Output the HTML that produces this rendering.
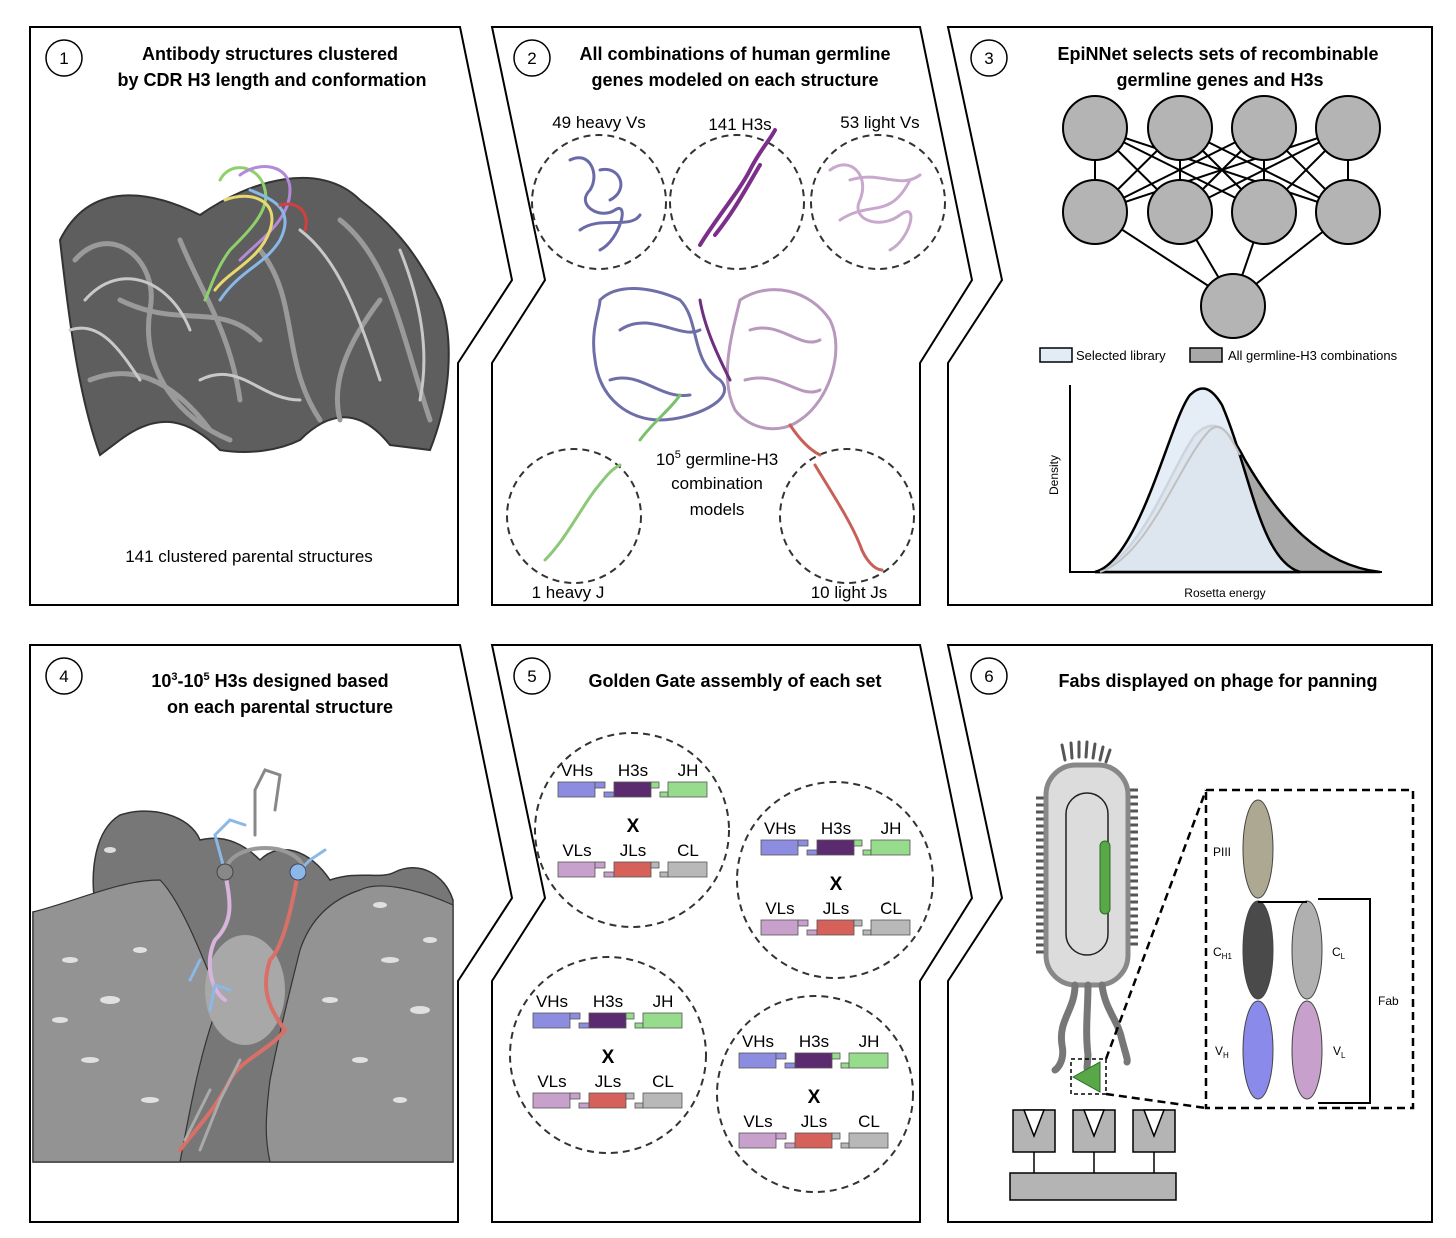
<!DOCTYPE html>
<html><head><meta charset="utf-8"><style>
html,body{margin:0;padding:0;background:#fff}
svg{display:block}
text{font-family:"Liberation Sans",Arial,sans-serif}
.t{font-weight:bold;font-size:18px;text-anchor:middle}
.l{font-size:17px;text-anchor:middle}
</style></head><body>
<svg width="1456" height="1238" viewBox="0 0 1456 1238" xmlns="http://www.w3.org/2000/svg">
<!-- panel outlines -->
<g fill="none" stroke="#000" stroke-width="2">
<path d="M30,27 H460 L512,280 L458,363 V605 H30 Z"/>
<path d="M492,27 H920 L972,280 L920,363 V605 H492 V363 L545,280 Z"/>
<path d="M948,27 H1432 V605 H948 V363 L1002,280 Z"/>
<path d="M30,645 H460 L512,898 L458,981 V1222 H30 Z"/>
<path d="M492,645 H920 L972,898 L920,981 V1222 H492 V981 L545,898 Z"/>
<path d="M948,645 H1432 V1222 H948 V981 L1002,898 Z"/>
</g>
<g fill="#fff" stroke="#000" stroke-width="1.5">
<circle cx="64" cy="58" r="18"/><circle cx="532" cy="58" r="18"/><circle cx="989" cy="58" r="18"/>
<circle cx="64" cy="676" r="18"/><circle cx="532" cy="676" r="18"/><circle cx="989" cy="676" r="18"/>
</g>
<g font-size="17">
<text x="64" y="64" text-anchor="middle">1</text><text x="532" y="64" text-anchor="middle">2</text><text x="989" y="64" text-anchor="middle">3</text>
<text x="64" y="682" text-anchor="middle">4</text><text x="532" y="682" text-anchor="middle">5</text><text x="989" y="682" text-anchor="middle">6</text>
</g>
<text class="t" x="270" y="60">Antibody structures clustered</text>
<text class="t" x="272" y="86">by CDR H3 length and conformation</text>
<text class="t" x="735" y="60">All combinations of human germline</text>
<text class="t" x="735" y="86">genes modeled on each structure</text>
<text class="t" x="1218" y="60">EpiNNet selects sets of recombinable</text>
<text class="t" x="1220" y="86">germline genes and H3s</text>
<text class="t" x="270" y="687">10<tspan font-size="11" dy="-7">3</tspan><tspan dy="7">-10</tspan><tspan font-size="11" dy="-7">5</tspan><tspan dy="7"> H3s designed based</tspan></text>
<text class="t" x="280" y="713">on each parental structure</text>
<text class="t" x="735" y="687">Golden Gate assembly of each set</text>
<text class="t" x="1218" y="687">Fabs displayed on phage for panning</text>

<!-- Panel 1 structure -->
<g stroke-linecap="round" fill="none">
<path d="M60,240 C90,180 150,190 200,215 C250,180 320,160 360,200 C400,230 420,260 440,300 C455,340 450,400 430,450 L390,445 C370,420 340,400 300,440 C280,450 250,455 220,450 C190,420 160,410 120,440 L100,455 C80,400 70,330 60,240 Z" fill="#5e5e5e" stroke="#333" stroke-width="2"/>
<path d="M75,260 C110,220 160,260 150,310 C140,370 180,420 230,440 M260,250 C300,300 280,360 320,420 M340,220 C390,260 400,330 430,420 M120,300 C180,330 220,300 260,340 M90,380 C140,360 180,390 210,430 M180,240 C200,290 230,330 240,400 M380,300 C350,340 330,380 340,420" stroke="#9a9a9a" stroke-width="5"/>
<path d="M85,300 C120,260 170,280 190,330 M300,230 C340,260 360,320 380,380 M200,380 C240,360 260,400 300,400 M70,330 C100,320 120,350 140,380 M400,250 C420,300 430,350 420,400" stroke="#c8c8c8" stroke-width="3"/>
<path d="M220,180 C230,160 260,165 265,190 C270,210 250,230 230,250 C215,270 210,290 205,300" stroke="#8fd06b" stroke-width="3"/>
<path d="M240,175 C260,160 290,165 290,190 C290,220 260,240 240,260" stroke="#b48ad8" stroke-width="3"/>
<path d="M225,200 C250,190 280,200 270,230 C260,260 230,270 215,290" stroke="#e8d870" stroke-width="3"/>
<path d="M250,190 C275,200 295,210 280,240 C265,265 240,270 220,300" stroke="#88b8e8" stroke-width="3"/>
<path d="M280,205 C300,200 310,215 305,230" stroke="#d04040" stroke-width="3"/>
</g>
<text class="l" x="249" y="562">141 clustered parental structures</text>

<!-- Panel 2 -->
<g fill="none" stroke="#333" stroke-width="2" stroke-dasharray="7,5">
<circle cx="599" cy="202" r="67"/><circle cx="737" cy="202" r="67"/><circle cx="878" cy="202" r="67"/>
<circle cx="574" cy="516" r="67"/><circle cx="847" cy="516" r="67"/>
</g>
<text class="l" x="599" y="128">49 heavy Vs</text>
<text class="l" x="740" y="130">141 H3s</text>
<text class="l" x="880" y="128">53 light Vs</text>
<text class="l" x="568" y="598">1 heavy J</text>
<text class="l" x="849" y="598">10 light Js</text>
<text class="l" x="717" y="465">10<tspan font-size="11" dy="-7">5</tspan><tspan dy="7"> germline-H3</tspan></text>
<text class="l" x="717" y="489">combination</text>
<text class="l" x="717" y="515">models</text>
<g fill="none" stroke-linecap="round">
<path d="M570,160 C590,150 600,175 590,190 C575,205 600,220 615,210 C630,200 620,240 600,250 M580,230 C600,215 630,230 640,215 M600,170 C620,165 630,190 610,200" stroke="#6a6aa8" stroke-width="3"/>
<path d="M700,245 C715,220 740,190 750,170 C760,150 770,140 775,130 M715,235 C735,210 745,190 760,165" stroke="#7b2f8a" stroke-width="4"/>
<path d="M830,170 C850,155 870,175 860,200 C850,220 880,230 900,215 C920,200 910,240 890,250 M840,220 C870,200 890,220 910,180 M850,180 C880,170 900,190 920,175" stroke="#c8a8cc" stroke-width="3"/>
<path d="M600,300 C620,280 660,290 680,300 C700,320 690,360 720,380 C740,400 690,420 660,420 C630,420 600,400 595,360 C590,330 600,310 600,300 Z M620,330 C650,310 680,340 700,330 M610,380 C640,370 660,400 690,395" stroke="#6e6ea8" stroke-width="3"/>
<path d="M740,300 C770,280 810,290 830,320 C845,350 830,400 800,420 C780,435 750,430 735,410 C720,380 730,340 740,300 Z M750,330 C780,320 800,350 820,340 M745,380 C780,370 800,400 820,390" stroke="#b898bc" stroke-width="3"/>
<path d="M700,300 C705,330 720,360 730,380" stroke="#6e2f7e" stroke-width="3"/>
<path d="M640,440 C655,420 670,410 680,395" stroke="#7bc06b" stroke-width="3"/>
<path d="M545,560 C565,540 580,510 595,490 C605,478 610,470 620,465" stroke="#8cc878" stroke-width="3"/>
<path d="M815,465 C830,490 850,520 860,545 C865,560 875,570 882,570" stroke="#c86058" stroke-width="3"/>
<path d="M790,425 C800,440 810,450 820,455" stroke="#c86058" stroke-width="3"/>
</g>

<!-- Panel 3 network -->
<g stroke="#000" stroke-width="2">
<line x1="1095" y1="128" x2="1095" y2="212"/><line x1="1095" y1="128" x2="1180" y2="212"/><line x1="1095" y1="128" x2="1264" y2="212"/><line x1="1095" y1="128" x2="1348" y2="212"/>
<line x1="1180" y1="128" x2="1095" y2="212"/><line x1="1180" y1="128" x2="1180" y2="212"/><line x1="1180" y1="128" x2="1264" y2="212"/><line x1="1180" y1="128" x2="1348" y2="212"/>
<line x1="1264" y1="128" x2="1095" y2="212"/><line x1="1264" y1="128" x2="1180" y2="212"/><line x1="1264" y1="128" x2="1264" y2="212"/><line x1="1264" y1="128" x2="1348" y2="212"/>
<line x1="1348" y1="128" x2="1095" y2="212"/><line x1="1348" y1="128" x2="1180" y2="212"/><line x1="1348" y1="128" x2="1264" y2="212"/><line x1="1348" y1="128" x2="1348" y2="212"/>
<line x1="1095" y1="212" x2="1233" y2="302"/><line x1="1180" y1="212" x2="1233" y2="302"/><line x1="1264" y1="212" x2="1233" y2="302"/><line x1="1348" y1="212" x2="1233" y2="302"/>
<g fill="#b4b4b4">
<circle cx="1095" cy="128" r="32"/><circle cx="1180" cy="128" r="32"/><circle cx="1264" cy="128" r="32"/><circle cx="1348" cy="128" r="32"/>
<circle cx="1095" cy="212" r="32"/><circle cx="1180" cy="212" r="32"/><circle cx="1264" cy="212" r="32"/><circle cx="1348" cy="212" r="32"/>
<circle cx="1233" cy="306" r="32"/>
</g>
</g>
<rect x="1040" y="348" width="32" height="14" fill="#e2ecf6" stroke="#000" stroke-width="1.5"/>
<text x="1076" y="360" font-size="13">Selected library</text>
<rect x="1190" y="348" width="32" height="14" fill="#a8a8a8" stroke="#000" stroke-width="1.5"/>
<text x="1228" y="360" font-size="13">All germline-H3 combinations</text>
<path d="M1070,385 V572 H1382" fill="none" stroke="#000" stroke-width="2"/>
<path d="M1095,572 C1140,560 1170,470 1195,435 C1210,420 1225,420 1245,460 C1280,520 1320,565 1380,572 Z" fill="#a8a8a8" stroke="#000" stroke-width="2.5"/>
<path d="M1095,572 C1140,560 1170,420 1190,395 C1200,385 1210,385 1222,405 C1250,470 1260,560 1300,572 Z" fill="#e2ecf6" fill-opacity="0.9" stroke="#000" stroke-width="2.5"/>
<path d="M1100,572 C1150,555 1180,460 1210,430 C1220,422 1226,428 1240,455" fill="none" stroke="#c0c0c0" stroke-width="2"/>
<text x="1058" y="475" font-size="12" transform="rotate(-90 1058 475)" text-anchor="middle">Density</text>
<text x="1225" y="597" font-size="12" text-anchor="middle">Rosetta energy</text>

<!-- Panel 4 surface -->
<path d="M33,912 L95,905 C90,870 95,830 120,815 C150,805 190,815 200,840 C220,835 240,840 260,860 C280,840 310,850 330,880 C360,870 380,880 395,872 C420,860 445,875 453,900 V1162 H33 Z" fill="#777" stroke="#333" stroke-width="1.5"/>
<path d="M33,912 C80,900 120,880 160,880 C180,900 200,950 220,1000 C200,1050 190,1110 180,1162 H33 Z" fill="#939393" stroke="#333" stroke-width="1.2"/>
<path d="M453,905 C420,890 380,880 360,890 C330,900 310,920 300,950 C290,990 280,1030 270,1080 C265,1120 265,1140 270,1162 H453 Z" fill="#939393" stroke="#333" stroke-width="1.2"/>
<ellipse cx="245" cy="990" rx="40" ry="55" fill="#a8a8a8"/>
<g fill="#eee" opacity="0.85">
<ellipse cx="70" cy="960" rx="8" ry="3"/><ellipse cx="110" cy="1000" rx="10" ry="4"/><ellipse cx="140" cy="950" rx="7" ry="3"/><ellipse cx="90" cy="1060" rx="9" ry="3"/>
<ellipse cx="390" cy="960" rx="9" ry="3"/><ellipse cx="420" cy="1010" rx="10" ry="4"/><ellipse cx="360" cy="1060" rx="8" ry="3"/><ellipse cx="400" cy="1100" rx="7" ry="3"/>
<ellipse cx="110" cy="850" rx="6" ry="3"/><ellipse cx="380" cy="905" rx="7" ry="3"/>
<ellipse cx="60" cy="1020" rx="8" ry="3"/><ellipse cx="150" cy="1100" rx="9" ry="3"/><ellipse cx="330" cy="1000" rx="8" ry="3"/><ellipse cx="430" cy="940" rx="7" ry="3"/>
</g>
<g fill="none" stroke-width="4" stroke-linecap="round">
<path d="M225,872 C230,840 300,840 305,872" stroke="#999"/>
<path d="M225,872 C230,900 235,920 215,940 C205,960 210,990 225,1000" stroke="#d8b4dc"/>
<path d="M298,872 C290,920 280,950 270,960 C260,990 270,1010 285,1030 C270,1050 240,1060 230,1080 C215,1110 195,1130 180,1150" stroke="#d87068"/>
<path d="M255,835 V790 L265,770 L280,775 L275,810" stroke="#888" stroke-width="3"/>
<path d="M225,872 L215,835 L230,820 L245,825" stroke="#8cb8e8" stroke-width="3"/>
<path d="M298,872 L310,860 L325,850" stroke="#8cb8e8" stroke-width="3"/>
<path d="M210,1010 L215,985 L230,990 M190,980 L200,960" stroke="#8cb8e8" stroke-width="3"/>
<path d="M200,1150 L220,1100 L240,1060 M185,1140 L210,1090" stroke="#aaa" stroke-width="3"/>
</g>
<circle cx="225" cy="872" r="8" fill="#888" stroke="#444"/>
<circle cx="298" cy="872" r="8" fill="#8cb8e8" stroke="#446"/>

<!-- Panel 5 -->
<g fill="none" stroke="#333" stroke-width="2" stroke-dasharray="7,5">
<circle cx="632" cy="830" r="97"/><circle cx="835" cy="880" r="98"/><circle cx="608" cy="1055" r="98"/><circle cx="815" cy="1094" r="98"/>
</g>
<g transform="translate(558,782)">
<text class="l" x="19" y="-6">VHs</text><text class="l" x="75" y="-6">H3s</text><text class="l" x="130" y="-6">JH</text>
<g stroke="#555" stroke-width="0.8">
<rect x="0" y="0" width="37" height="15" fill="#8c8ce0"/><rect x="37" y="0" width="10" height="6" fill="#8c8ce0"/><rect x="46" y="10" width="10" height="5" fill="#8c8ce0"/>
<rect x="56" y="0" width="37" height="15" fill="#5c2a6e"/><rect x="93" y="0" width="8" height="6" fill="#96dc8c"/><rect x="102" y="10" width="8" height="5" fill="#96dc8c"/>
<rect x="110" y="0" width="39" height="15" fill="#96dc8c"/>
</g>
<text x="75" y="50" font-size="19" font-weight="bold" text-anchor="middle">X</text>
<text class="l" x="19" y="74">VLs</text><text class="l" x="75" y="74">JLs</text><text class="l" x="130" y="74">CL</text>
<g stroke="#555" stroke-width="0.8" transform="translate(0,80)">
<rect x="0" y="0" width="37" height="15" fill="#c8a0cc"/><rect x="37" y="0" width="10" height="6" fill="#c8a0cc"/><rect x="46" y="10" width="10" height="5" fill="#c8a0cc"/>
<rect x="56" y="0" width="37" height="15" fill="#d6605a"/><rect x="93" y="0" width="8" height="6" fill="#b8b8b8"/><rect x="102" y="10" width="8" height="5" fill="#b8b8b8"/>
<rect x="110" y="0" width="39" height="15" fill="#b8b8b8"/>
</g>
</g>
<g transform="translate(761,840)">
<text class="l" x="19" y="-6">VHs</text><text class="l" x="75" y="-6">H3s</text><text class="l" x="130" y="-6">JH</text>
<g stroke="#555" stroke-width="0.8">
<rect x="0" y="0" width="37" height="15" fill="#8c8ce0"/><rect x="37" y="0" width="10" height="6" fill="#8c8ce0"/><rect x="46" y="10" width="10" height="5" fill="#8c8ce0"/>
<rect x="56" y="0" width="37" height="15" fill="#5c2a6e"/><rect x="93" y="0" width="8" height="6" fill="#96dc8c"/><rect x="102" y="10" width="8" height="5" fill="#96dc8c"/>
<rect x="110" y="0" width="39" height="15" fill="#96dc8c"/>
</g>
<text x="75" y="50" font-size="19" font-weight="bold" text-anchor="middle">X</text>
<text class="l" x="19" y="74">VLs</text><text class="l" x="75" y="74">JLs</text><text class="l" x="130" y="74">CL</text>
<g stroke="#555" stroke-width="0.8" transform="translate(0,80)">
<rect x="0" y="0" width="37" height="15" fill="#c8a0cc"/><rect x="37" y="0" width="10" height="6" fill="#c8a0cc"/><rect x="46" y="10" width="10" height="5" fill="#c8a0cc"/>
<rect x="56" y="0" width="37" height="15" fill="#d6605a"/><rect x="93" y="0" width="8" height="6" fill="#b8b8b8"/><rect x="102" y="10" width="8" height="5" fill="#b8b8b8"/>
<rect x="110" y="0" width="39" height="15" fill="#b8b8b8"/>
</g>
</g>
<g transform="translate(533,1013)">
<text class="l" x="19" y="-6">VHs</text><text class="l" x="75" y="-6">H3s</text><text class="l" x="130" y="-6">JH</text>
<g stroke="#555" stroke-width="0.8">
<rect x="0" y="0" width="37" height="15" fill="#8c8ce0"/><rect x="37" y="0" width="10" height="6" fill="#8c8ce0"/><rect x="46" y="10" width="10" height="5" fill="#8c8ce0"/>
<rect x="56" y="0" width="37" height="15" fill="#5c2a6e"/><rect x="93" y="0" width="8" height="6" fill="#96dc8c"/><rect x="102" y="10" width="8" height="5" fill="#96dc8c"/>
<rect x="110" y="0" width="39" height="15" fill="#96dc8c"/>
</g>
<text x="75" y="50" font-size="19" font-weight="bold" text-anchor="middle">X</text>
<text class="l" x="19" y="74">VLs</text><text class="l" x="75" y="74">JLs</text><text class="l" x="130" y="74">CL</text>
<g stroke="#555" stroke-width="0.8" transform="translate(0,80)">
<rect x="0" y="0" width="37" height="15" fill="#c8a0cc"/><rect x="37" y="0" width="10" height="6" fill="#c8a0cc"/><rect x="46" y="10" width="10" height="5" fill="#c8a0cc"/>
<rect x="56" y="0" width="37" height="15" fill="#d6605a"/><rect x="93" y="0" width="8" height="6" fill="#b8b8b8"/><rect x="102" y="10" width="8" height="5" fill="#b8b8b8"/>
<rect x="110" y="0" width="39" height="15" fill="#b8b8b8"/>
</g>
</g>
<g transform="translate(739,1053)">
<text class="l" x="19" y="-6">VHs</text><text class="l" x="75" y="-6">H3s</text><text class="l" x="130" y="-6">JH</text>
<g stroke="#555" stroke-width="0.8">
<rect x="0" y="0" width="37" height="15" fill="#8c8ce0"/><rect x="37" y="0" width="10" height="6" fill="#8c8ce0"/><rect x="46" y="10" width="10" height="5" fill="#8c8ce0"/>
<rect x="56" y="0" width="37" height="15" fill="#5c2a6e"/><rect x="93" y="0" width="8" height="6" fill="#96dc8c"/><rect x="102" y="10" width="8" height="5" fill="#96dc8c"/>
<rect x="110" y="0" width="39" height="15" fill="#96dc8c"/>
</g>
<text x="75" y="50" font-size="19" font-weight="bold" text-anchor="middle">X</text>
<text class="l" x="19" y="74">VLs</text><text class="l" x="75" y="74">JLs</text><text class="l" x="130" y="74">CL</text>
<g stroke="#555" stroke-width="0.8" transform="translate(0,80)">
<rect x="0" y="0" width="37" height="15" fill="#c8a0cc"/><rect x="37" y="0" width="10" height="6" fill="#c8a0cc"/><rect x="46" y="10" width="10" height="5" fill="#c8a0cc"/>
<rect x="56" y="0" width="37" height="15" fill="#d6605a"/><rect x="93" y="0" width="8" height="6" fill="#b8b8b8"/><rect x="102" y="10" width="8" height="5" fill="#b8b8b8"/>
<rect x="110" y="0" width="39" height="15" fill="#b8b8b8"/>
</g>
</g>

<!-- Panel 6 phage -->
<g stroke="#555" stroke-width="3" stroke-linecap="round">
<path d="M1065,760 L1062,745 M1072,758 L1071,743 M1079,757 L1079,742 M1086,757 L1087,742 M1093,758 L1095,744 M1100,760 L1103,747 M1106,762 L1110,750"/>
</g>
<g stroke="#555" stroke-width="3">
<path d="M1036,798 H1048 M1036,805 H1048 M1036,812 H1048 M1036,819 H1048 M1036,826 H1048 M1036,833 H1048 M1036,840 H1048 M1036,847 H1048 M1036,854 H1048 M1036,861 H1048 M1036,868 H1048 M1036,875 H1048 M1036,882 H1048 M1036,889 H1048 M1036,896 H1048 M1036,903 H1048 M1036,910 H1048 M1036,917 H1048 M1036,924 H1048 M1036,931 H1048 M1036,938 H1048 M1036,945 H1048 M1036,952 H1048"/>
<path d="M1126,790 H1138 M1126,797 H1138 M1126,804 H1138 M1126,811 H1138 M1126,818 H1138 M1126,825 H1138 M1126,832 H1138 M1126,839 H1138 M1126,846 H1138 M1126,853 H1138 M1126,860 H1138 M1126,867 H1138 M1126,874 H1138 M1126,881 H1138 M1126,888 H1138 M1126,895 H1138 M1126,902 H1138 M1126,909 H1138 M1126,916 H1138 M1126,923 H1138 M1126,930 H1138 M1126,937 H1138 M1126,944 H1138"/>
</g>
<rect x="1046" y="765" width="82" height="220" rx="30" fill="#dcdcdc" stroke="#888" stroke-width="5"/>
<rect x="1066" y="793" width="42" height="162" rx="21" fill="none" stroke="#222" stroke-width="1.5"/>
<rect x="1100" y="841" width="10" height="73" rx="5" fill="#58a848" stroke="#2a6a2a"/>
<g fill="none" stroke="#777" stroke-width="7" stroke-linecap="round">
<path d="M1075,985 C1075,1010 1058,1020 1062,1045 C1065,1060 1058,1068 1055,1070"/>
<path d="M1088,985 C1088,1010 1085,1030 1088,1055 L1087,1068"/>
<path d="M1102,985 C1105,1010 1118,1020 1122,1040 C1126,1055 1128,1060 1127,1062"/>
</g>
<path d="M1073,1077 L1100,1062 L1100,1092 Z" fill="#58a848" stroke="#2a6a2a"/>
<rect x="1071" y="1059" width="35" height="35" fill="none" stroke="#000" stroke-width="1.5" stroke-dasharray="4,3"/>
<g fill="none" stroke="#000" stroke-width="2.5" stroke-dasharray="8,5">
<path d="M1206,790 H1413 V1108 H1206 Z"/>
<path d="M1106,1059 L1206,790 M1106,1094 L1206,1108"/>
</g>
<g stroke="#444" stroke-width="1">
<ellipse cx="1258" cy="849" rx="15" ry="49" fill="#aca892"/>
<ellipse cx="1258" cy="950" rx="15" ry="49" fill="#4a4a4a"/>
<ellipse cx="1258" cy="1050" rx="15" ry="49" fill="#8a8aea"/>
<ellipse cx="1307" cy="950" rx="15" ry="49" fill="#b0b0b0"/>
<ellipse cx="1307" cy="1050" rx="15" ry="49" fill="#c8a0cc"/>
</g>
<path d="M1258,902 H1307" stroke="#000" stroke-width="2"/>
<path d="M1318,899 H1370 V1103 H1318" fill="none" stroke="#000" stroke-width="2"/>
<g font-size="12">
<text x="1213" y="856">PIII</text>
<text x="1213" y="956">C<tspan font-size="8" dy="3">H1</tspan></text>
<text x="1332" y="956">C<tspan font-size="8" dy="3">L</tspan></text>
<text x="1215" y="1055">V<tspan font-size="8" dy="3">H</tspan></text>
<text x="1333" y="1055">V<tspan font-size="8" dy="3">L</tspan></text>
<text x="1378" y="1005">Fab</text>
</g>
<g fill="#b4b4b4" stroke="#000" stroke-width="1.5">
<path d="M1013,1110 H1055 V1152 H1013 Z"/>
<path d="M1073,1110 H1115 V1152 H1073 Z"/>
<path d="M1133,1110 H1175 V1152 H1133 Z"/>
<rect x="1010" y="1173" width="166" height="27"/>
</g>
<g fill="#fff" stroke="#000" stroke-width="1.5">
<path d="M1024,1110 L1034,1136 L1044,1110 Z"/>
<path d="M1084,1110 L1094,1136 L1104,1110 Z"/>
<path d="M1144,1110 L1154,1136 L1164,1110 Z"/>
</g>
<g stroke="#000" stroke-width="1.5">
<line x1="1034" y1="1152" x2="1034" y2="1173"/><line x1="1094" y1="1152" x2="1094" y2="1173"/><line x1="1154" y1="1152" x2="1154" y2="1173"/>
</g>
</svg>
</body></html>
